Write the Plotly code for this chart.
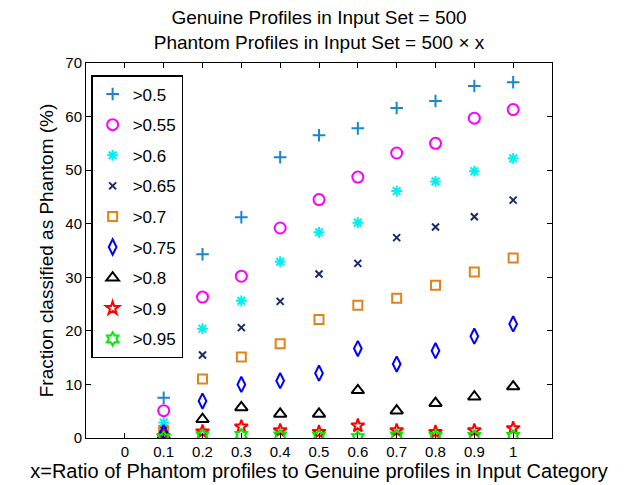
import plotly.graph_objects as go

x_vals = [0.1, 0.2, 0.3, 0.4, 0.5, 0.6, 0.7, 0.8, 0.9, 1.0]
names = [">0.5", ">0.55", ">0.6", ">0.65", ">0.7", ">0.75", ">0.8", ">0.9", ">0.95"]
s050 = [7.5, 34.3, 41.2, 52.4, 56.5, 57.8, 61.6, 62.9, 65.7, 66.4]
s055 = [5.1, 26.3, 30.2, 39.2, 44.5, 48.7, 53.2, 55.0, 59.7, 61.3]
s060 = [2.9, 20.4, 25.6, 32.9, 38.4, 40.2, 46.1, 47.9, 49.8, 52.2]
s065 = [1.5, 15.5, 20.6, 25.5, 30.6, 32.6, 37.4, 39.4, 41.3, 44.4]
s070 = [1.4, 11.0, 15.1, 17.6, 22.1, 24.8, 26.1, 28.5, 31.0, 33.6]
s075 = [1.0, 6.9, 10.0, 10.7, 12.1, 16.7, 13.8, 16.3, 19.0, 21.3]
s080 = [0.4, 3.5, 5.7, 4.5, 4.5, 8.9, 5.1, 6.5, 7.7, 9.6]
s090 = [0.3, 1.2, 2.1, 1.4, 1.1, 2.3, 1.4, 1.1, 1.4, 1.8]
s095 = [0.0, 0.4, 0.5, 0.4, 0.3, 0.1, 0.4, 0.3, 0.3, 0.3]
series = [s050, s055, s060, s065, s070, s075, s080, s090, s095]

symbols = ["cross-thin", "circle-open", "asterisk", "x-thin", "square-open",
           "diamond-tall-open", "triangle-up-open", "star-open", "hexagram-open"]
colors = ["#1a86cc", "#ff00ff", "#00f0f0", "#172b6b", "#e0831a",
          "#0000ff", "#000000", "#ff0000", "#00ee00"]
sizes = [9, 11, 9, 7, 9, 11, 11, 10, 10]
widths = [2, 2, 2, 2, 2, 2, 2, 2, 2]

fig = go.Figure()
for i, (nm, ys) in enumerate(zip(names, series)):
    fig.add_trace(go.Scatter(
        x=x_vals, y=ys, mode="markers", name=nm, legendgroup=nm,
        marker=dict(symbol=symbols[i], size=sizes[i], color=colors[i],
                    line=dict(color=colors[i], width=widths[i])),
    ))

font = "Liberation Sans, Arial, sans-serif"
fig.update_layout(
    width=631, height=485,
    margin=dict(l=86, r=79, t=63, b=47),
    paper_bgcolor="white", plot_bgcolor="white",
    font=dict(family=font, size=15, color="black"),
    title=dict(text="Genuine Profiles in Input Set = 500<br>Phantom Profiles in Input Set = 500 × x",
               x=0.5, xanchor="center", xref="paper", yref="container", y=0.9505, yanchor="bottom",
               pad=dict(b=0, t=0), font=dict(size=19)),
    showlegend=True,
    legend=dict(x=0.011, y=0.968, xanchor="left", yanchor="top",
                bordercolor="black", borderwidth=1.5, bgcolor="white",
                font=dict(size=17), tracegroupgap=5.5),
    xaxis=dict(range=[-0.1, 1.1], tickmode="array", automargin=False,
               tickvals=[0, 0.1, 0.2, 0.3, 0.4, 0.5, 0.6, 0.7, 0.8, 0.9, 1.0],
               ticktext=["0", "0.1", "0.2", "0.3", "0.4", "0.5", "0.6", "0.7", "0.8", "0.9", "1"],
               ticks="inside", ticklen=5, tickcolor="black", mirror="ticks",
               showline=True, linecolor="black", linewidth=1, showgrid=False, zeroline=False,
               tickfont=dict(size=15),
               title=dict(text="x=Ratio of Phantom profiles to Genuine profiles in Input Category",
                          font=dict(size=20), standoff=0)),
    yaxis=dict(range=[0, 70], dtick=10, ticks="inside", ticklen=5, tickcolor="black",
               mirror="ticks", showline=True, linecolor="black", linewidth=1, automargin=False,
               showgrid=False, zeroline=False, tickfont=dict(size=15),
               title=dict(text="Fraction classified as Phantom (%)", font=dict(size=19), standoff=6)),
)

fig.write_html("out.html")
